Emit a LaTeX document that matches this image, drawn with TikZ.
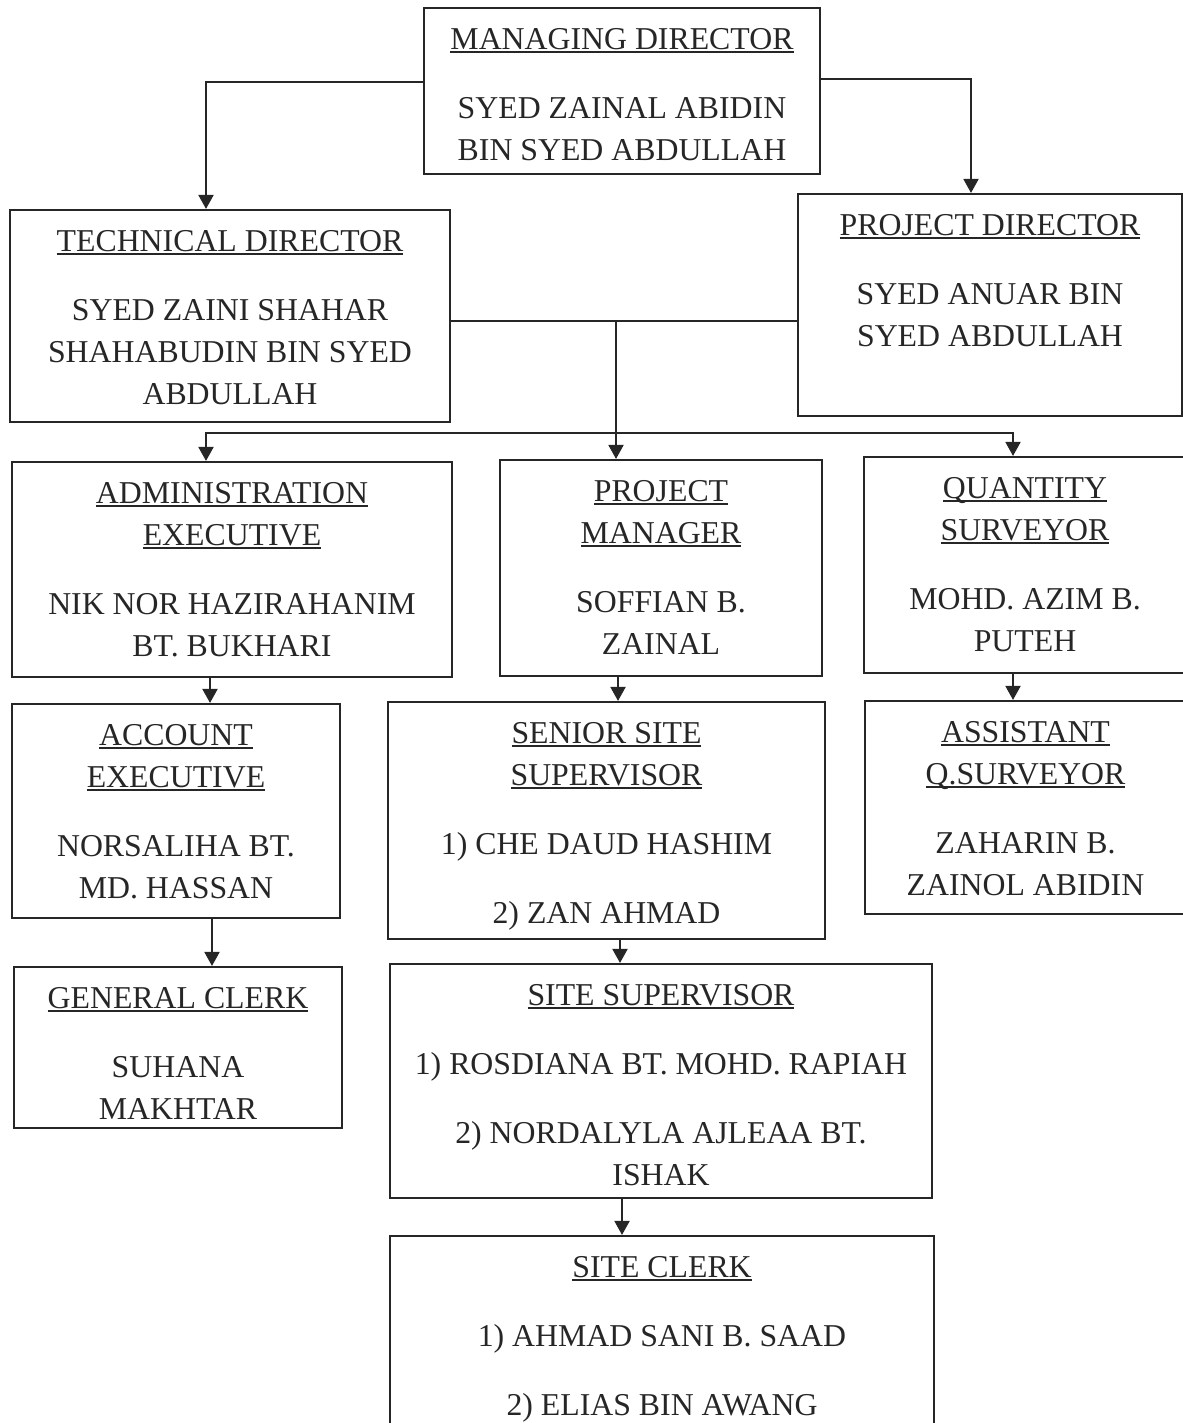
\documentclass[tikz,border=0pt]{standalone}
\usepackage{fontspec}
\setmainfont{Liberation Serif}
\usetikzlibrary{arrows.meta}
\definecolor{inkgray}{gray}{0.15}
% underlined heading and box text (sizes in px of the scan)
\newcommand{\ttl}[1]{\leavevmode\setbox0\hbox{#1}\rlap{\rule[-2.2pt]{\wd0}{1.1pt}}\box0}
\newcommand{\orgtext}[3]{\parbox[c][\dimexpr 0.02cm*#2\relax][t]{\dimexpr 0.02cm*#1\relax}{\centering\fontsize{18.1pt}{0.84cm}\selectfont\vspace*{0.24cm}\strut#3}}

\begin{document}
\begin{tikzpicture}[x=0.02cm, y=-0.02cm, color=inkgray,
  orgbox/.style={draw, inner sep=0pt, line width=1.2pt},
  link/.style={line width=1.1pt},
  arr/.style={link, -{Triangle[length=0.28cm, width=0.3cm]}}]
\useasboundingbox (0,0) rectangle (1183,1423);

% Directors
\node[orgbox] (md) at (622,91) {\orgtext{396}{166}{\ttl{MANAGING DIRECTOR}\\[0.54cm] SYED ZAINAL ABIDIN\\ BIN SYED ABDULLAH}};
\node[orgbox] (td) at (230,316) {\orgtext{440}{212}{\ttl{TECHNICAL DIRECTOR}\\[0.54cm] SYED ZAINI SHAHAR\\ SHAHABUDIN BIN SYED\\ ABDULLAH}};
\node[orgbox] (pd) at (990,305) {\orgtext{384}{222}{\ttl{PROJECT DIRECTOR}\\[0.54cm] SYED ANUAR BIN\\ SYED ABDULLAH}};

% Second level
\node[orgbox] (ae) at (232,569.5) {\orgtext{440}{215}{\ttl{ADMINISTRATION}\\ \ttl{EXECUTIVE}\\[0.54cm] NIK NOR HAZIRAHANIM\\ BT. BUKHARI}};
\node[orgbox] (pm) at (661,568) {\orgtext{322}{216}{\ttl{PROJECT}\\ \ttl{MANAGER}\\[0.54cm] SOFFIAN B.\\ ZAINAL}};
\node[orgbox] (qs) at (1025,565) {\orgtext{322}{216}{\ttl{QUANTITY}\\ \ttl{SURVEYOR}\\[0.54cm] MOHD. AZIM B.\\ PUTEH}};

% Third level
\node[orgbox] (acc) at (176,811) {\orgtext{328}{214}{\ttl{ACCOUNT}\\ \ttl{EXECUTIVE}\\[0.54cm] NORSALIHA BT.\\ MD. HASSAN}};
\node[orgbox] (sss) at (606.5,820.5) {\orgtext{437}{237}{\ttl{SENIOR SITE}\\ \ttl{SUPERVISOR}\\[0.54cm] 1) CHE DAUD HASHIM\\[0.54cm] 2) ZAN AHMAD}};
\node[orgbox] (aqs) at (1025.5,807.5) {\orgtext{321}{213}{\ttl{ASSISTANT}\\ \ttl{Q.SURVEYOR}\\[0.54cm] ZAHARIN B.\\ ZAINOL ABIDIN}};

% Lower levels
\node[orgbox] (gc) at (178,1047.5) {\orgtext{328}{161}{\ttl{GENERAL CLERK}\\[0.54cm] SUHANA\\ MAKHTAR}};
\node[orgbox] (ss) at (661,1081) {\orgtext{542}{234}{\ttl{SITE SUPERVISOR}\\[0.54cm] 1) ROSDIANA BT. MOHD. RAPIAH\\[0.54cm] 2) NORDALYLA AJLEAA BT.\\ ISHAK}};
\node[orgbox] (sc) at (662,1340) {\orgtext{544}{208}{\ttl{SITE CLERK}\\[0.54cm] 1) AHMAD SANI B. SAAD\\[0.54cm] 2) ELIAS BIN AWANG}};

% Connectors from the top
\coordinate (mdl) at (206,82);
\coordinate (mdr) at (971,79);
\coordinate (mid) at (616,321);
\coordinate (busL) at (206,433);
\coordinate (busR) at (1013,433);
\draw[arr] (md.west |- mdl) -| (td.north -| mdl);
\draw[arr] (md.east |- mdr) -| (pd.north -| mdr);
\draw[link] (td.east |- mid) -- (pd.west |- mid);
\draw[arr] (mid) -- (pm.north -| mid);
\draw[link, {Triangle[length=0.28cm, width=0.3cm]}-{Triangle[length=0.28cm, width=0.3cm]}]
  (ae.north -| busL) -- (busL) -- (busR) -- (qs.north -| busR);

% Downward chains
\draw[arr] ([xshift=-0.44cm]ae.south) -- ([xshift=-0.44cm]ae.south |- acc.north);
\draw[arr] ([xshift=0.72cm]acc.south) -- ([xshift=0.72cm]acc.south |- gc.north);
\draw[arr] ([xshift=-0.86cm]pm.south) -- ([xshift=-0.86cm]pm.south |- sss.north);
\draw[arr] ([xshift=0.27cm]sss.south) -- ([xshift=0.27cm]sss.south |- ss.north);
\draw[arr] ([xshift=-0.78cm]ss.south) -- ([xshift=-0.78cm]ss.south |- sc.north);
\draw[arr] ([xshift=-0.24cm]qs.south) -- ([xshift=-0.24cm]qs.south |- aqs.north);
\end{tikzpicture}
\end{document}
